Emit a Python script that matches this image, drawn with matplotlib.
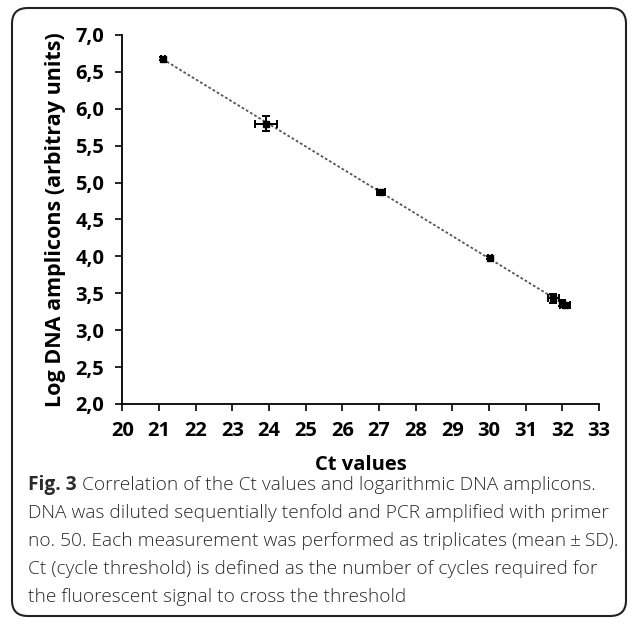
import numpy as np
import matplotlib
matplotlib.use("Agg")
import matplotlib.pyplot as plt
from matplotlib.patches import FancyBboxPatch

# mean Ct values and log amplicons (mean +/- SD of triplicates)
ct = [21.10, 23.92, 27.05, 30.03, 31.75, 32.00, 32.07]
log_amp = [6.68, 5.80, 4.87, 3.98, 3.43, 3.37, 3.34]
ct_sd = [0.05, 0.29, 0.10, 0.06, 0.15, 0.05, 0.14]
log_sd = [0.02, 0.10, 0.02, 0.02, 0.06, 0.04, 0.02]

x_ticks = list(range(20, 34))
y_ticks = [2.0, 2.5, 3.0, 3.5, 4.0, 4.5, 5.0, 5.5, 6.0, 6.5, 7.0]
y_labels = ["2,0", "2,5", "3,0", "3,5", "4,0", "4,5", "5,0", "5,5", "6,0", "6,5", "7,0"]

AX_FONT = "Open Sans"

fig = plt.figure(figsize=(6.34, 6.24), dpi=100, facecolor="white")
ax = fig.add_axes([0.193, 0.3526, 0.752, 0.5914])

# linear trendline through the data
coef = np.polyfit(ct, log_amp, 1)
xs = np.array([min(ct), max(ct)])
ax.plot(xs, np.polyval(coef, xs), color="#555555", linestyle=(0, (1.5, 1.2)),
        linewidth=1.3, zorder=1)

ax.errorbar(ct, log_amp, xerr=ct_sd, yerr=log_sd, fmt="s", color="black",
            markersize=4, elinewidth=1.4, capsize=3, capthick=1.4, zorder=3)

ax.set_xlim(20, 33)
ax.set_ylim(2.0, 7.0)
ax.set_xticks(x_ticks)
ax.set_xticklabels([str(t) for t in x_ticks], fontfamily=AX_FONT,
                   fontweight="bold", fontsize=14.5)
ax.set_yticks(y_ticks)
ax.set_yticklabels(y_labels, fontfamily=AX_FONT, fontweight="bold", fontsize=14.5)
ax.tick_params(direction="out", length=5, width=1.2, color="black", pad=7)
ax.tick_params(axis="y", pad=8)

for side in ["top", "right"]:
    ax.spines[side].set_visible(False)
for side in ["left", "bottom"]:
    ax.spines[side].set_linewidth(1.3)
    ax.spines[side].set_color("black")

ax.set_xlabel("Ct values", fontfamily=AX_FONT, fontweight="bold", fontsize=14.5,
              labelpad=10)
ax.set_ylabel("Log DNA amplicons (arbitray units)", fontfamily=AX_FONT,
              fontweight="bold", fontsize=15.5, labelpad=7)

# caption
cap_lines = [
    "DNA was diluted sequentially tenfold and PCR amplified with primer",
    "no. 50. Each measurement was performed as triplicates (mean\u2009\u00b1\u2009SD).",
    "Ct (cycle threshold) is defined as the number of cycles required for",
    "the fluorescent signal to cross the threshold",
]
CAP_SIZE = 13.8
cap_x = 28 / 634
fig3 = fig.text(cap_x, 1 - 485 / 624, "Fig. 3", fontfamily="Open Sans",
                fontweight="bold", fontsize=CAP_SIZE, color="#2a2a2a", va="center")
fig.canvas.draw()
bb = fig3.get_window_extent().transformed(fig.transFigure.inverted())
fig.text(bb.x1 + 5 / 634, 1 - 485 / 624,
         "Correlation of the Ct values and logarithmic DNA amplicons.",
         fontfamily="Open Sans", fontweight="light", fontsize=CAP_SIZE,
         color="#2a2a2a", va="center")
for i, line in enumerate(cap_lines):
    fig.text(cap_x, 1 - (513 + 28 * i) / 624, line, fontfamily="Open Sans",
             fontweight="light", fontsize=CAP_SIZE, color="#2a2a2a", va="center")

# rounded frame round the whole figure
frame = FancyBboxPatch((12 / 634, 8 / 624), 614 / 634, 608 / 624,
                       boxstyle="round,pad=0,rounding_size=0.025",
                       transform=fig.transFigure, fill=False,
                       edgecolor="#222222", linewidth=1.5)
fig.patches.append(frame)

fig.savefig("out.png", dpi=100, facecolor="white")
